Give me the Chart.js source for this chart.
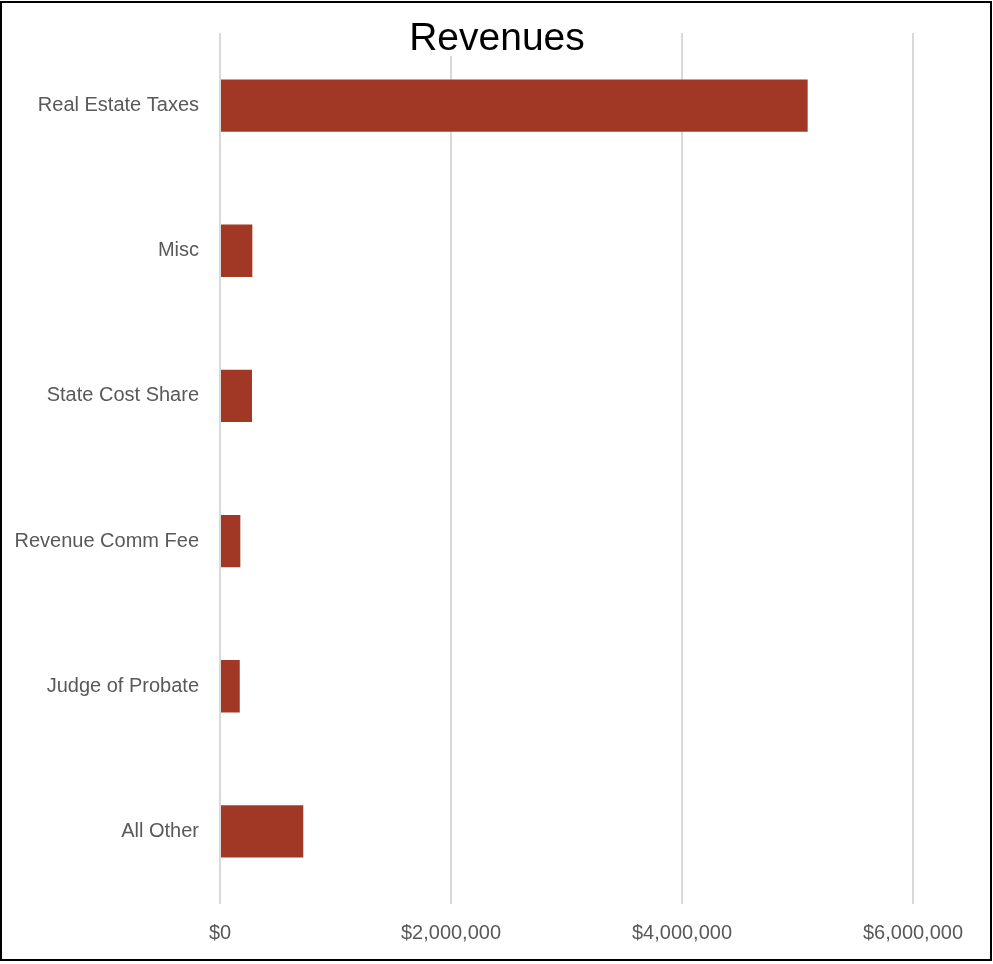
<!DOCTYPE html>
<html>
<head>
<meta charset="utf-8">
<title>Revenues</title>
<script src="https://cdn.jsdelivr.net/npm/chart.js@4/dist/chart.umd.min.js"></script>
<style>
	html, body {
		margin: 0;
		padding: 0;
		background: #fff;
	}
	#chart_wrap {
		position: relative;
		width: 993px;
		height: 964px;
	}
</style>
</head>
<body>
<div id="chart_wrap">
	<canvas id="chart_revenues" width="993" height="964"></canvas>
</div>
<script>
'use strict';

const CATEGORIES = [
	'Real Estate Taxes',
	'Misc',
	'State Cost Share',
	'Revenue Comm Fee',
	'Judge of Probate',
	'All Other',
];
const REVENUES = [5088000, 280000, 277000, 176000, 171000, 721000];
const X_TICKS = [0, 2000000, 4000000, 6000000];
const TITLE = 'Revenues';

const COLORS = {
	bar: '#a13825',
	grid: '#d9d9d9',
	label: '#595959',
	title: '#000000',
	frame: '#000000',
};
const LABEL_FONT = '"Liberation Sans", Arial, sans-serif';
const TITLE_FONT = '"Liberation Sans", Arial, sans-serif';

function money(value) {
	return '$' + Number(value).toLocaleString('en-US');
}

// title sits on a white patch over the top of the grid, plus the outer frame
const titleAndFrame = {
	id: 'titleAndFrame',
	afterDraw(chart) {
		let ctx = chart.ctx;
		ctx.save();
		ctx.font = '39px ' + TITLE_FONT;
		let w = ctx.measureText(TITLE).width,
			cx = 497;
		ctx.fillStyle = '#fff';
		ctx.fillRect(cx - w / 2 - 6, 10, w + 12, 46);
		ctx.fillStyle = COLORS.title;
		ctx.textAlign = 'center';
		ctx.textBaseline = 'alphabetic';
		ctx.fillText(TITLE, cx, 50);

		ctx.strokeStyle = COLORS.frame;
		ctx.lineWidth = 2;
		ctx.strokeRect(1, 2, 990, 958);
		ctx.restore();
	},
};

function makeConfig() {
	let datasets = [{
		label: TITLE,
		data: REVENUES,
		backgroundColor: COLORS.bar,
		borderWidth: 0,
		categoryPercentage: 1,
		barPercentage: 0.36,
	}];

	return {
		type: 'bar',
		data: {
			labels: CATEGORIES,
			datasets: datasets,
		},
		options: {
			indexAxis: 'y',
			responsive: false,
			animation: false,
			layout: {
				padding: {top: 30, right: 80, bottom: 0, left: 0},
			},
			plugins: {
				legend: {display: false},
				title: {display: false},
				tooltip: {enabled: false},
			},
			scales: {
				x: {
					min: 0,
					max: 6000000,
					afterBuildTicks: (scale) => {
						scale.ticks = X_TICKS.map(v => ({value: v}));
					},
					afterFit: (scale) => {
						scale.height = 60;
					},
					grid: {
						color: COLORS.grid,
						lineWidth: 2,
						drawTicks: false,
					},
					border: {display: false},
					ticks: {
						color: COLORS.label,
						padding: 17,
						maxRotation: 0,
						font: {family: LABEL_FONT, size: 20},
						callback: (value) => money(value),
					},
				},
				y: {
					afterFit: (scale) => {
						scale.width = 220;
					},
					grid: {display: false, drawTicks: false},
					border: {display: false},
					ticks: {
						color: COLORS.label,
						padding: 21,
						font: {family: LABEL_FONT, size: 20},
					},
				},
			},
		},
		plugins: [titleAndFrame],
	};
}

function renderChart(select, config) {
	let ctx = document.getElementById(select).getContext('2d');
	window.ChartRevenues = new Chart(ctx, config);
}

renderChart('chart_revenues', makeConfig());
</script>
</body>
</html>
